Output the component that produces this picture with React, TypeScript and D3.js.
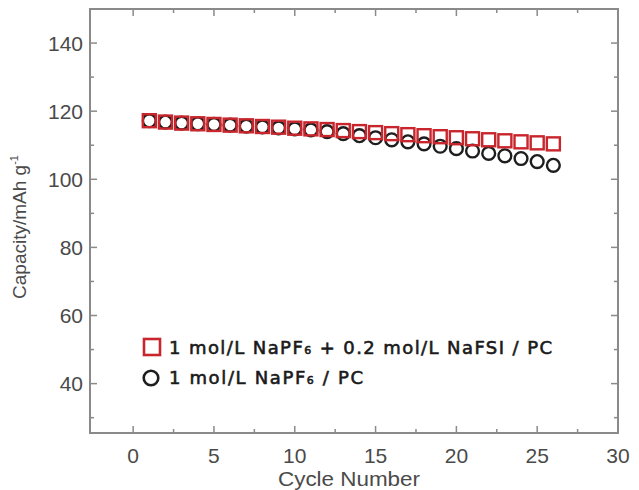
import React from "react";
import * as d3 from "d3";

const cycles = [1,2,3,4,5,6,7,8,9,10,11,12,13,14,15,16,17,18,19,20,21,22,23,24,25,26];
const withFSI = [117.2,116.8,116.5,116.3,116.1,115.9,115.7,115.5,115.3,115.0,114.8,114.6,114.3,114.0,113.7,113.4,113.1,112.8,112.5,112.2,111.9,111.6,111.3,111.0,110.7,110.4];
const withoutFSI = [117.2,116.8,116.5,116.3,116.1,115.9,115.6,115.4,115.1,114.8,114.5,114.0,113.4,112.8,112.2,111.6,111.0,110.4,109.7,109.0,108.3,107.6,106.9,106.1,105.2,104.1];
const xTicks = [0,5,10,15,20,25,30];
const xMinor = [2.5,7.5,12.5,17.5,22.5,27.5];
const yTicks = [40,60,80,100,120,140];
const yMinor = [30,50,70,90,110,130];

const W = 639, H = 490;
const L = 90, R = 618, T = 9, B = 433;

export default function App() {
  const x = d3.scaleLinear().domain([-2.67, 30]).range([L, R]);
  const y = d3.scaleLinear().domain([25.5, 150]).range([B, T]);
  const axisColor = "#8a8a8a";
  const labelColor = "#4a4a4a";
  const red = "#c8262c";
  const sq = 13;
  const font = "Liberation Sans, Arial, sans-serif";
  const legendFont = "DejaVu Sans, Noto Sans, sans-serif";
  return (
    <svg width={W} height={H} style={{ position: "absolute", left: 0, top: 0 }}>
      <rect x={0} y={0} width={W} height={H} fill="#fff" />
      {xTicks.filter(t => t > -2.67 && t < 30).map(t => (
        <g key={"xt" + t}>
          <line x1={x(t)} x2={x(t)} y1={B} y2={B - 7} stroke={axisColor} strokeWidth={1.5} />
          <line x1={x(t)} x2={x(t)} y1={T} y2={T + 7} stroke={axisColor} strokeWidth={1.5} />
        </g>
      ))}
      {xMinor.map(t => (
        <g key={"xm" + t}>
          <line x1={x(t)} x2={x(t)} y1={B} y2={B - 4} stroke={axisColor} strokeWidth={1.5} />
          <line x1={x(t)} x2={x(t)} y1={T} y2={T + 4} stroke={axisColor} strokeWidth={1.5} />
        </g>
      ))}
      {yTicks.map(t => (
        <g key={"yt" + t}>
          <line x1={L} x2={L + 7} y1={y(t)} y2={y(t)} stroke={axisColor} strokeWidth={1.5} />
          <line x1={R} x2={R - 7} y1={y(t)} y2={y(t)} stroke={axisColor} strokeWidth={1.5} />
        </g>
      ))}
      {yMinor.map(t => (
        <g key={"ym" + t}>
          <line x1={L} x2={L + 4} y1={y(t)} y2={y(t)} stroke={axisColor} strokeWidth={1.5} />
          <line x1={R} x2={R - 4} y1={y(t)} y2={y(t)} stroke={axisColor} strokeWidth={1.5} />
        </g>
      ))}
      <rect x={L} y={T} width={R - L} height={B - T} fill="none" stroke={axisColor} strokeWidth={2} />
      {xTicks.map(t => (
        <text key={"xl" + t} x={x(t)} y={463} textAnchor="middle" fontFamily={font} fontSize={21} fill={labelColor}>{t}</text>
      ))}
      {yTicks.map(t => (
        <text key={"yl" + t} x={83} y={y(t) + 7.5} textAnchor="end" fontFamily={font} fontSize={21} fill={labelColor}>{t}</text>
      ))}
      <text x={349} y={486} textAnchor="middle" fontFamily={font} fontSize={20} fill={labelColor} textLength={142} lengthAdjust="spacingAndGlyphs">Cycle Number</text>
      <text transform={`translate(26,227) rotate(-90)`} textAnchor="middle" fontFamily={font} fontSize={19} fill={labelColor}>
        Capacity/mAh g<tspan dy={-8} fontSize={11}>-1</tspan>
      </text>
      {cycles.map((c, i) => (
        <circle key={"c" + c} cx={x(c)} cy={y(withoutFSI[i])} r={6.4} fill="none" stroke="#1e1e1e" strokeWidth={2.4} />
      ))}
      {cycles.map((c, i) => (
        <rect key={"s" + c} x={x(c) - sq / 2} y={y(withFSI[i]) - sq / 2} width={sq} height={sq} fill="none" stroke={red} strokeWidth={2.4} />
      ))}
      <rect x={144} y={339} width={16} height={16} fill="none" stroke={red} strokeWidth={2.6} />
      <circle cx={151} cy={378} r={7.3} fill="none" stroke="#1e1e1e" strokeWidth={2.6} />
      <text x={169} y={354} fontFamily={legendFont} fontSize={18} fill="#1a1a1a" stroke="#1a1a1a" strokeWidth={0.6} textLength={383} lengthAdjust="spacing">
        1 mol/L NaPF<tspan fontSize={11}>6</tspan> + 0.2 mol/L NaFSI / PC
      </text>
      <text x={169} y={384} fontFamily={legendFont} fontSize={18} fill="#1a1a1a" stroke="#1a1a1a" strokeWidth={0.6} textLength={194} lengthAdjust="spacing">
        1 mol/L NaPF<tspan fontSize={11}>6</tspan> / PC
      </text>
    </svg>
  );
}
